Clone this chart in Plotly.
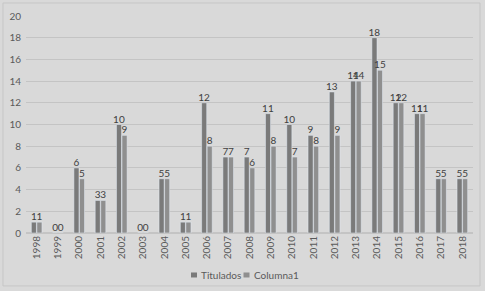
import plotly.graph_objects as go

years = [str(y) for y in range(1998, 2019)]
titulados = [1, 0, 6, 3, 10, 0, 5, 1, 12, 7, 7, 11, 10, 9, 13, 14, 18, 12, 11, 5, 5]
columna1 = [1, 0, 5, 3, 9, 0, 5, 1, 8, 7, 6, 8, 7, 8, 9, 14, 15, 12, 11, 5, 5]
y_ticks = list(range(0, 21, 2))
series_names = ["Titulados", "Columna1"]
series_colors = ["#7a7a7a", "#8f8f8f"]

font = "Lato, 'Open Sans', sans-serif"
fig = go.Figure()
for name, vals, col in zip(series_names, [titulados, columna1], series_colors):
    fig.add_trace(go.Bar(x=years, y=vals, name=name, marker_color=col,
                         text=vals, textposition="outside", cliponaxis=False,
                         textfont=dict(size=10, color="#404040", family=font)))

# compact legend (Excel-like small squares) drawn as shapes + text
legend_x = [0.3758, 0.4933]
shapes = [dict(type="rect", xref="paper", yref="paper", x0=-0.0515, x1=1.0157,
               y0=-0.244, y1=1.06, line=dict(color="#c6c6c6", width=1))]
annotations = []
for lx, name, col in zip(legend_x, series_names, series_colors):
    shapes.append(dict(type="rect", xref="paper", yref="paper",
                       x0=lx - 0.0067, x1=lx + 0.0067, y0=-0.2050, y1=-0.1820,
                       line=dict(width=0), fillcolor=col))
    annotations.append(dict(xref="paper", yref="paper", x=lx + 0.0112, y=-0.1935,
                            text=name, showarrow=False, xanchor="left", yanchor="middle",
                            font=dict(size=10, color="#595959", family=font)))

fig.update_layout(
    width=485, height=291,
    paper_bgcolor="#d9d9d9", plot_bgcolor="#d9d9d9",
    margin=dict(l=26, r=12, t=16, b=58),
    barmode="group", bargap=0.48, bargroupgap=0.08,
    font=dict(family=font, size=10, color="#595959"),
    showlegend=False,
    uniformtext=dict(minsize=10, mode="show"),
    shapes=shapes, annotations=annotations,
)
fig.update_xaxes(tickangle=-90, tickfont=dict(size=10, color="#595959"), showgrid=False,
                 showline=False, ticks="", automargin=False)
fig.update_yaxes(range=[0, 20], tickvals=y_ticks, gridcolor="#c4c4c4", gridwidth=1,
                 zeroline=True, zerolinecolor="#c4c4c4", tickfont=dict(size=10, color="#595959"),
                 showline=False, ticks="", ticklabelstandoff=4, automargin=False)

fig.write_html("out.html", config={"displayModeBar": False},
               post_script="document.body.style.margin='0';document.body.style.background='#d9d9d9';")
